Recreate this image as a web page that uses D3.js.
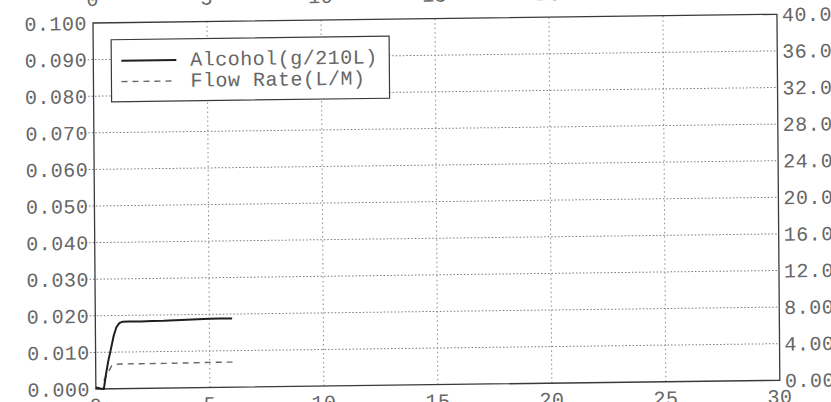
<!DOCTYPE html>
<html>
<head>
<meta charset="utf-8">
<script src="https://cdn.jsdelivr.net/npm/d3@7"></script>
<style>
  body { margin: 0; background: #fff; }
  svg { display: block; }
  text { font-family: "Liberation Mono", "Courier New", monospace; font-size: 20px; fill: #666; letter-spacing: 0.5px; }
</style>
</head>
<body>
<svg width="831" height="402"></svg>
<script>
// Tick labels as printed on the chart
var xTicks = [0, 5, 10, 15, 20, 25, 30];
var leftTicks = [0, 0.01, 0.02, 0.03, 0.04, 0.05, 0.06, 0.07, 0.08, 0.09, 0.1];
var leftLabels = ['0.000', '0.010', '0.020', '0.030', '0.040', '0.050', '0.060', '0.070', '0.080', '0.090', '0.100'];
var rightTicks = [0, 4, 8, 12, 16, 20, 24, 28, 32, 36, 40];
var rightLabels = ['0.00', '4.00', '8.00', '12.0', '16.0', '20.0', '24.0', '28.0', '32.0', '36.0', '40.0'];

// Alcohol trace (g/210L), time in seconds
var alcTime = [0, 0.2, 0.35, 0.45, 0.55, 0.66, 0.8, 0.92, 1.05, 1.2, 1.5, 2, 2.5, 3, 3.5, 4, 4.5, 5, 5.5, 6];
var alcValue = [0.0004, 0.0001, 0.0, 0.004, 0.0075, 0.0105, 0.0145, 0.0168, 0.0179, 0.0183, 0.0183, 0.0183, 0.0184, 0.0184, 0.0185, 0.0186, 0.0187, 0.0188, 0.0188, 0.0188];

// Flow rate trace (L/M)
var flowTime = [0.35, 0.7, 1.0, 2, 3, 4, 5, 6];
var flowValue = [0.9, 2.5, 2.7, 2.7, 2.7, 2.72, 2.75, 2.75];

var legendItems = [
  { label: 'Alcohol(g/210L)', dash: null, color: '#1e1e1e', width: 2 },
  { label: 'Flow Rate(L/M)', dash: '6,5', color: '#666', width: 1.4 }
];

var svg = d3.select('svg');

var origin = { x: 93, y: 23 };
var width = 684;
var height = 366;

// the scan is slightly tilted
var g = svg.append('g')
  .attr('transform', 'translate(' + origin.x + ',' + origin.y + ') rotate(-0.45) skewY(-0.28)');

var x = d3.scaleLinear().domain([0, 30]).range([0, width]);
var yLeft = d3.scaleLinear().domain([0, 0.1]).range([height, 0]);
var yRight = d3.scaleLinear().domain([0, 40]).range([height, 0]);

// horizontal grid (with small stubs left of the frame)
g.append('g')
  .selectAll('line')
  .data(leftTicks.slice(1, -1))
  .join('line')
  .attr('x1', -9)
  .attr('x2', width)
  .attr('y1', function(d) { return yLeft(d); })
  .attr('y2', function(d) { return yLeft(d); })
  .attr('stroke', '#7a7a7a')
  .attr('stroke-width', 1)
  .attr('stroke-dasharray', '1.5,2');

// vertical grid
g.append('g')
  .selectAll('line')
  .data(xTicks.slice(1, -1))
  .join('line')
  .attr('x1', function(d) { return x(d); })
  .attr('x2', function(d) { return x(d); })
  .attr('y1', 0)
  .attr('y2', height)
  .attr('stroke', '#8a8a8a')
  .attr('stroke-width', 1)
  .attr('stroke-dasharray', '1.5,3');

// frame
g.append('rect')
  .attr('width', width)
  .attr('height', height)
  .attr('fill', 'none')
  .attr('stroke', '#3a3a3a')
  .attr('stroke-width', 1.3);

// left axis labels
g.append('g')
  .selectAll('text')
  .data(leftTicks)
  .join('text')
  .attr('x', -6)
  .attr('y', function(d) { return yLeft(d); })
  .attr('dy', '0.35em')
  .attr('text-anchor', 'end')
  .text(function(d, i) { return leftLabels[i]; });

// right axis labels
g.append('g')
  .selectAll('text')
  .data(rightTicks)
  .join('text')
  .attr('x', width + 5)
  .attr('y', function(d) { return yRight(d); })
  .attr('dy', '0.35em')
  .text(function(d, i) { return rightLabels[i]; });

// top and bottom x labels
g.append('g')
  .selectAll('text')
  .data(xTicks)
  .join('text')
  .attr('x', function(d) { return x(d); })
  .attr('y', -17)
  .attr('text-anchor', 'middle')
  .text(function(d) { return d; });

g.append('g')
  .selectAll('text')
  .data(xTicks)
  .join('text')
  .attr('x', function(d) { return x(d); })
  .attr('y', height + 23)
  .attr('text-anchor', 'middle')
  .text(function(d) { return d; });

// flow rate line
var flowLine = d3.line()
  .x(function(d, i) { return x(flowTime[i]); })
  .y(function(d) { return yRight(d); });

g.append('path')
  .datum(flowValue)
  .attr('fill', 'none')
  .attr('stroke', legendItems[1].color)
  .attr('stroke-width', legendItems[1].width)
  .attr('stroke-dasharray', legendItems[1].dash)
  .attr('d', flowLine);

// alcohol line
var alcLine = d3.line()
  .x(function(d, i) { return x(alcTime[i]); })
  .y(function(d) { return yLeft(d); });

g.append('path')
  .datum(alcValue)
  .attr('fill', 'none')
  .attr('stroke', legendItems[0].color)
  .attr('stroke-width', legendItems[0].width)
  .attr('stroke-linejoin', 'round')
  .attr('d', alcLine);

// legend
var legend = g.append('g').attr('transform', 'translate(18,17)');

legend.append('rect')
  .attr('width', 278)
  .attr('height', 62)
  .attr('fill', '#fff')
  .attr('stroke', '#3a3a3a')
  .attr('stroke-width', 1.2);

var rows = legend.selectAll('g.row')
  .data(legendItems)
  .join('g')
  .attr('class', 'row')
  .attr('transform', function(d, i) { return 'translate(0,' + (21 + i * 21) + ')'; });

rows.append('line')
  .attr('x1', 10)
  .attr('x2', 65)
  .attr('stroke', function(d) { return d.color; })
  .attr('stroke-width', function(d) { return d.width; })
  .attr('stroke-dasharray', function(d) { return d.dash; });

rows.append('text')
  .attr('x', 79)
  .attr('dy', '0.3em')
  .text(function(d) { return d.label; });
</script>
</body>
</html>
